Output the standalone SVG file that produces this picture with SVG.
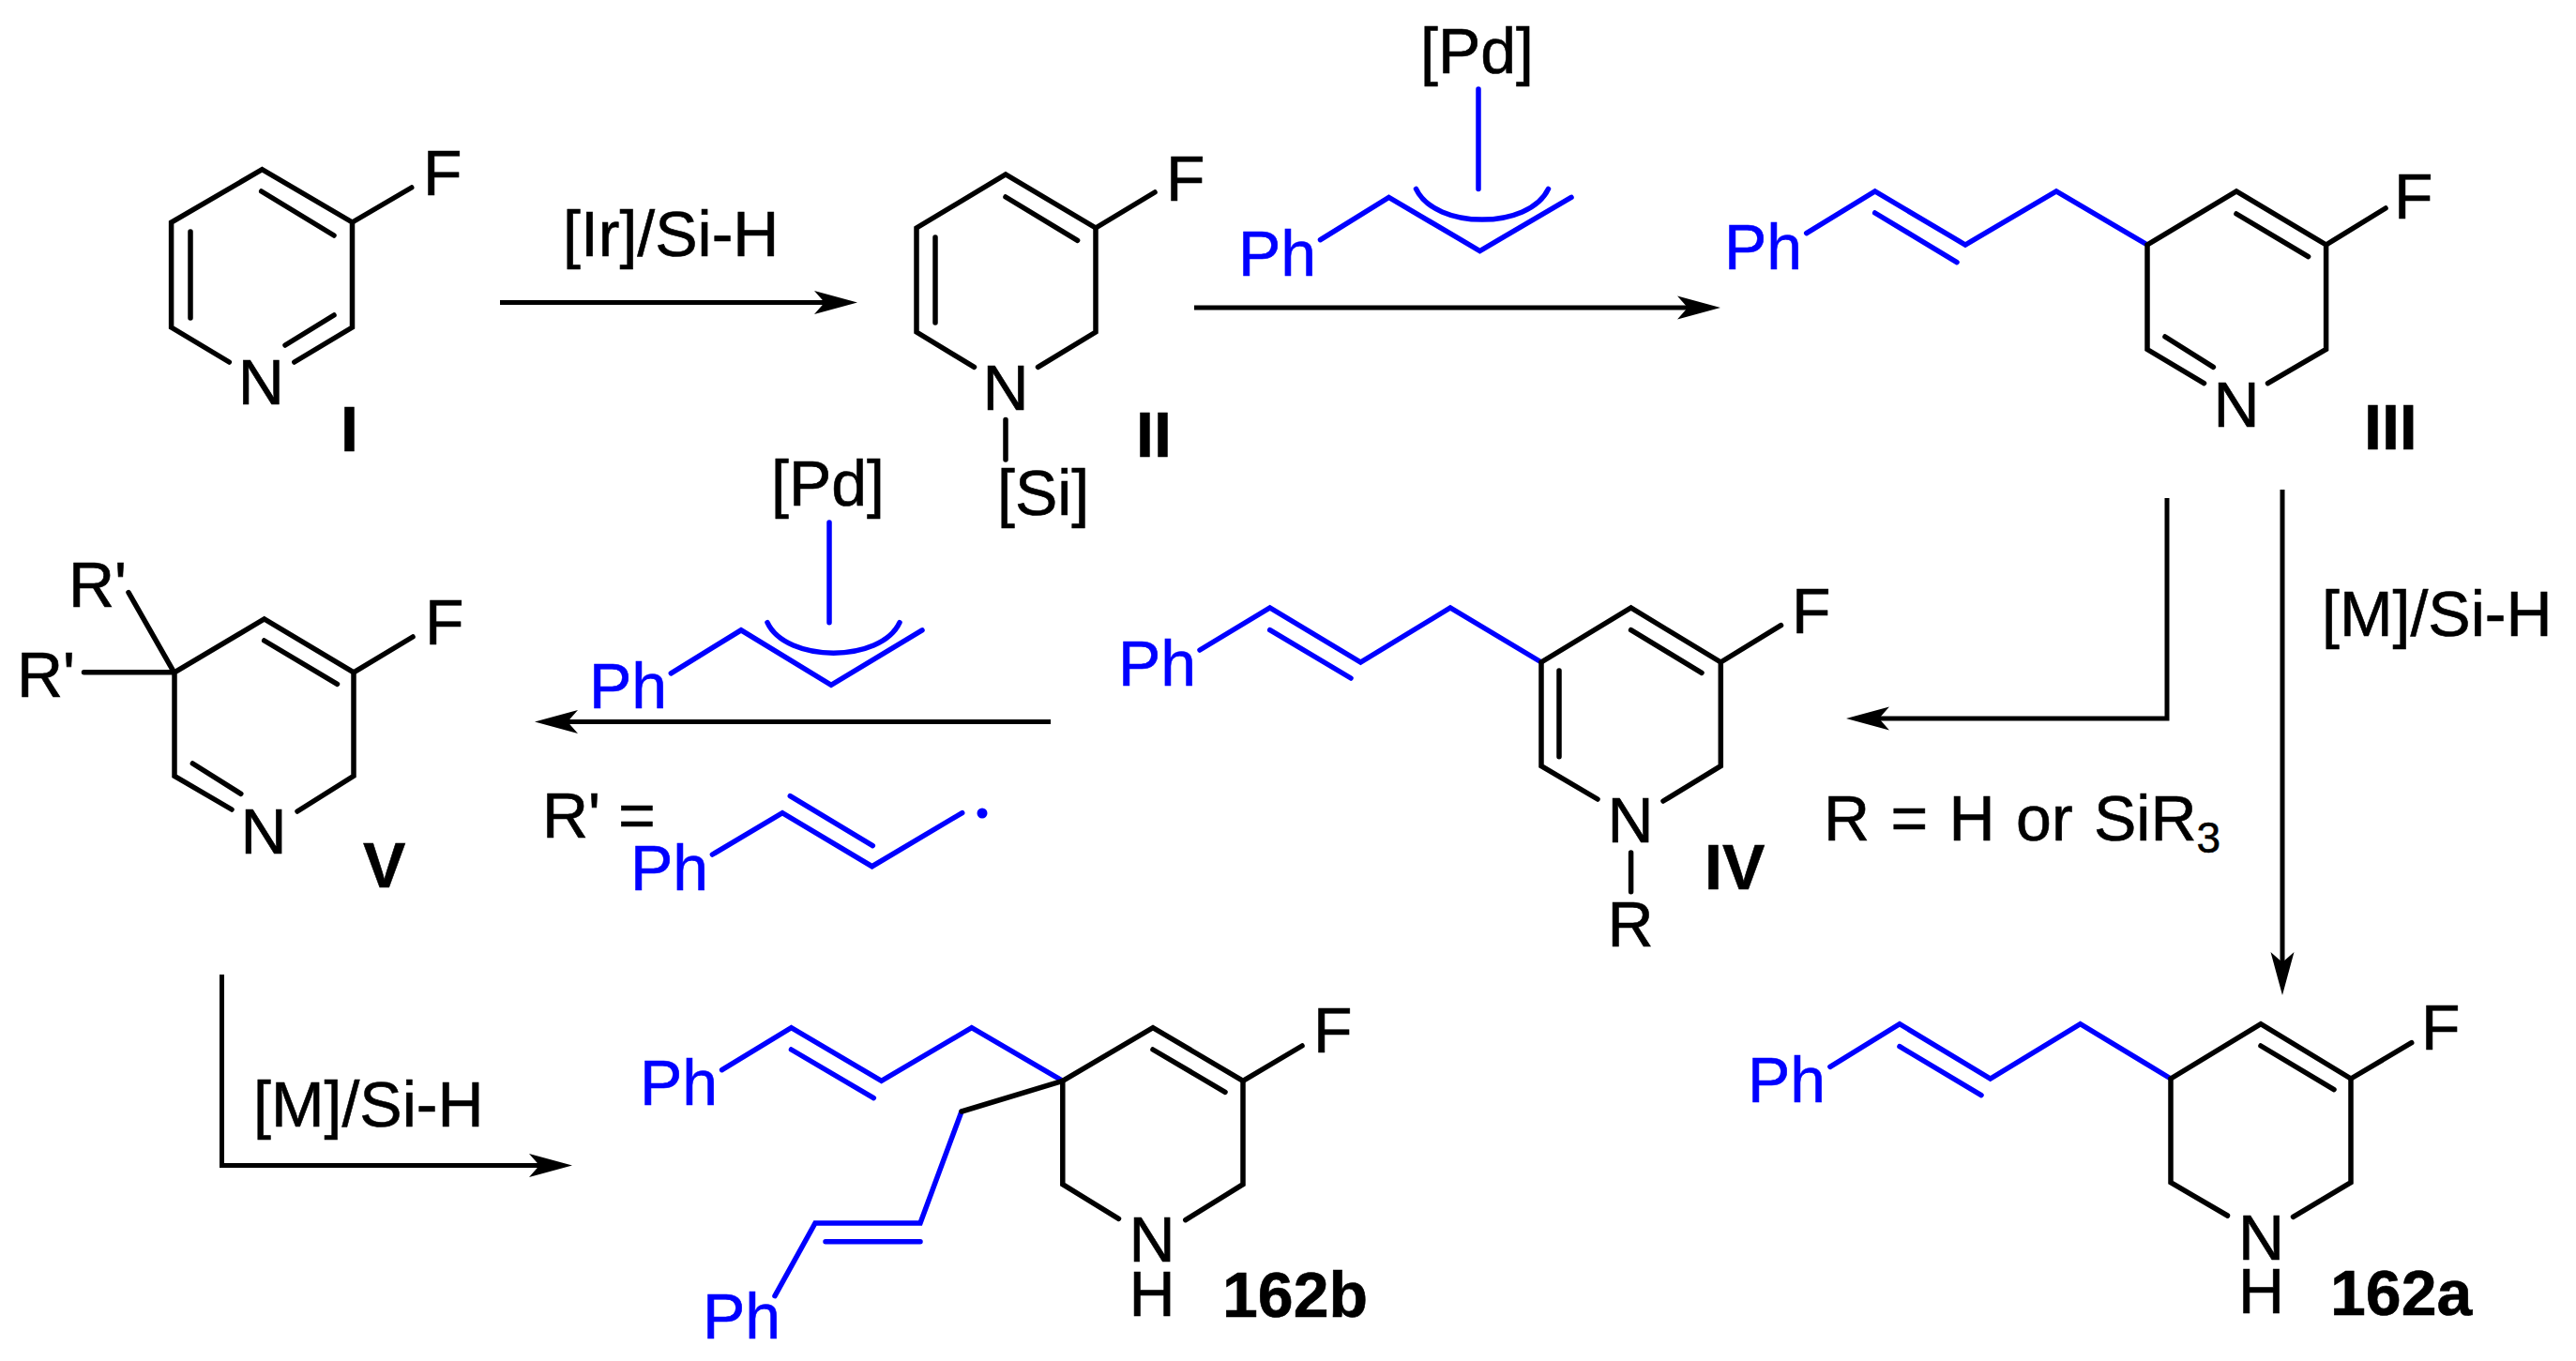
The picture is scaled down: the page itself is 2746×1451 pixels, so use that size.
<svg xmlns="http://www.w3.org/2000/svg" width="2746" height="1451" viewBox="0 0 2746 1451">
<style>
text{font-family:"Liberation Sans",Arial,sans-serif;font-size:68px;fill:#000;stroke:#000;stroke-width:.6px}
.m{text-anchor:middle}
.bd{font-weight:bold}
text.bl{fill:#00f;stroke:#00f}
.k,.c{fill:none;stroke-width:5.5;stroke-linecap:round;stroke-linejoin:miter}
.k{stroke:#000}
.c{stroke:#00f}
.a{fill:none;stroke:#000;stroke-width:5;stroke-linejoin:miter}
</style>
<defs>
<marker id="ah" markerUnits="userSpaceOnUse" markerWidth="50" markerHeight="30" refX="26" refY="13" orient="auto">
<path d="M0,0.5 L46,13 L0,25.5 L11,13 Z" fill="#000"/>
</marker>
</defs>
<rect width="2746" height="1451" fill="#fff"/>

<g id="connectors">
<path class="a" d="M533,322.5 H894" marker-end="url(#ah)"/>
<path class="a" d="M1273,328 H1814" marker-end="url(#ah)"/>
<path class="a" d="M2310,531 V766 H1988" marker-end="url(#ah)"/>
<path class="a" d="M2433,522 V1041" marker-end="url(#ah)"/>
<path class="a" d="M1120,769.5 H590" marker-end="url(#ah)"/>
<path class="a" d="M236.5,1039 V1242.5 H590" marker-end="url(#ah)"/>
</g>

<g id="compound-I">
<path class="k" d="M244.3,386 L182.6,349 V237 L279.4,180.7 L375.5,237 V349 L313.8,386"/>
<path class="k" d="M203,247 V339 M278.7,204 L356,251 M356,336 L304,368 M375.5,237 L438.7,200"/>
<text class="m" x="278.4" y="431">N</text>
<text x="451" y="208">F</text>
<text class="bd" x="363" y="481">I</text>
</g>

<g id="label-ir">
<text x="600" y="272.5">[Ir]/Si-H</text>
</g>

<g id="compound-II">
<path class="k" d="M1038.5,391.4 L977,354 V243 L1072,186 L1168,243 V354 L1106.5,391.4"/>
<path class="k" d="M997,253 V344 M1072,210 L1148.6,256.4 M1168,243 L1231,205 M1072,447.5 V490"/>
<text class="m" x="1072" y="437">N</text>
<text x="1243" y="214">F</text>
<text x="1063" y="548.6">[Si]</text>
<text class="bd" x="1211" y="487">II</text>
</g>

<g id="pd-allyl-top">
<text x="1514" y="78">[Pd]</text>
<path class="c" d="M1576,95 V201.4 M1407.5,255.7 L1480.5,210.4 L1577.5,267.5 L1675,210.4"/>
<path class="c" d="M1509.5,201.4 C1530,245 1630,245 1650.5,201.4"/>
<text class="bl" x="1320" y="294">Ph</text>
</g>

<g id="compound-III">
<path class="c" d="M1925.7,248.6 L1998.7,204 L2095,261 L2192,204 L2289,261 M1998.7,227 L2086,279.6"/>
<path class="k" d="M2349.5,408.6 L2289,372.5 V261 L2384,204 L2479.6,261 V372.5 L2417.5,408.6"/>
<path class="k" d="M2384,228 L2460.6,273.6 M2308,359 L2359.4,391.4 M2479.6,261 L2543,222"/>
<text class="bl" x="1838" y="287">Ph</text>
<text class="m" x="2384" y="454.6">N</text>
<text x="2552" y="233">F</text>
<text class="bd" x="2520" y="479">III</text>
</g>

<g id="label-m-right">
<text x="2475" y="678">[M]/Si-H</text>
</g>

<g id="compound-IV">
<path class="c" d="M1279,693 L1353.7,648 L1450.4,706 L1546,648 L1643,706 M1353.7,671.7 L1440,723"/>
<path class="k" d="M1703,852 L1643,816.7 V706 L1738.6,648 L1834.3,706 V816.7 L1773,854"/>
<path class="k" d="M1662,715 V806.7 M1738.6,671.7 L1814,717.3 M1834.3,706 L1898.5,666.7 M1738.6,909 V950.7"/>
<text class="bl" x="1192" y="731">Ph</text>
<text class="m" x="1738" y="898">N</text>
<text class="m" x="1738" y="1009">R</text>
<text x="1910" y="675">F</text>
<text class="bd" x="1817" y="948">IV</text>
</g>

<g id="label-r">
<text x="1944" y="896" word-spacing="3.5">R = H or SiR<tspan font-size="46" dy="13">3</tspan></text>
</g>

<g id="compound-V">
<path class="k" d="M247,863 L186,827.3 V716.8 L281.7,660 L377,716.8 V827.3 L317,865"/>
<path class="k" d="M281.7,683 L359.5,729.3 M205.4,814 L256.8,846.3 M377,716.8 L440,679 M137,631.6 L185.6,716.8 M89.5,716.8 H185.6"/>
<text x="73" y="646.5">R'</text>
<text x="18" y="743">R'</text>
<text class="m" x="281" y="909.5">N</text>
<text x="453" y="687">F</text>
<text class="bd" x="387" y="945.7">V</text>
</g>

<g id="pd-allyl-bottom">
<text x="822" y="539">[Pd]</text>
<path class="c" d="M884,557 V663.7 M715.3,717.8 L790,671.8 L886,730.3 L983,671.8"/>
<path class="c" d="M818,663.7 C838,707 939,707 959,663.7"/>
<text class="bl" x="628" y="755">Ph</text>
</g>

<g id="r-prime-definition">
<text x="578" y="893">R' =</text>
<path class="c" d="M759.4,911 L834,866.6 L929.6,923.7 L1025.7,866.6 M842.3,848.6 L930.3,901.7"/>
<circle cx="1047" cy="867" r="5.5" fill="#00f"/>
<text class="bl" x="672" y="949.4">Ph</text>
</g>

<g id="label-m-left">
<text x="270" y="1200.7">[M]/Si-H</text>
</g>

<g id="compound-162b">
<path class="c" d="M769.6,1140.7 L843.5,1095.7 L939.6,1152.3 L1035.8,1095.7 L1132.8,1152.3 M843.5,1119 L931.3,1170.7"/>
<path class="c" d="M1025,1185 L981,1304 H869 L826,1381.7 M880,1323.7 H981"/>
<path class="k" d="M1192.5,1299.3 L1132.8,1262.7 V1152.3 L1229,1095.7 L1325,1152.3 V1262.7 L1263.8,1300.7"/>
<path class="k" d="M1229,1119 L1306,1164.3 M1325,1152.3 L1388,1115 M1132.8,1152.3 L1025,1185"/>
<text class="bl" x="682" y="1178.3">Ph</text>
<text class="bl" x="749" y="1426.7">Ph</text>
<text class="m" x="1228" y="1345">N</text>
<text class="m" x="1228" y="1403">H</text>
<text x="1400" y="1122">F</text>
<text class="bd" x="1303" y="1404">162b</text>
</g>

<g id="compound-162a">
<path class="c" d="M1950.9,1137.3 L2025,1091.7 L2121.7,1150 L2217.6,1091.7 L2314,1150 M2025,1115.7 L2112,1167.7"/>
<path class="k" d="M2374.5,1296 L2314,1260.7 V1150 L2410,1091.7 L2506,1150 V1260.7 L2444.5,1297.3"/>
<path class="k" d="M2410,1115 L2488,1161.7 M2506,1150 L2570.7,1111.7"/>
<text class="bl" x="1863" y="1175">Ph</text>
<text class="m" x="2410.5" y="1342.7">N</text>
<text class="m" x="2410.5" y="1400">H</text>
<text x="2581" y="1119">F</text>
<text class="bd" x="2484" y="1401.7">162a</text>
</g>
</svg>
